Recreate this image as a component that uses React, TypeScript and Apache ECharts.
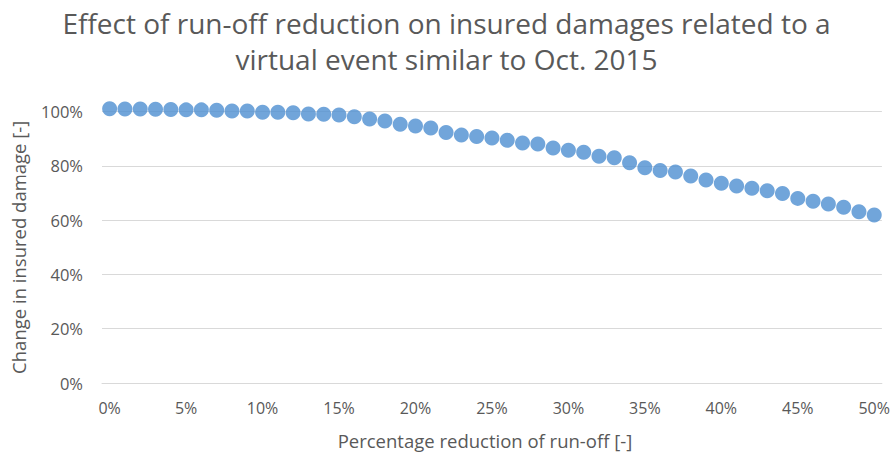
import React, { useEffect, useRef } from "react";
import * as echarts from "echarts";

const titleLines = [
  "Effect of run-off reduction on insured damages related to a",
  "virtual event similar to Oct. 2015",
];
const xAxisTitle = "Percentage reduction of run-off [-]";
const yAxisTitle = "Change in insured damage [-]";

// Percentage reduction of run-off (x, in %)
const runoffReduction = [
  0, 1, 2, 3, 4, 5, 6, 7, 8, 9, 10, 11, 12, 13, 14, 15, 16, 17, 18, 19, 20,
  21, 22, 23, 24, 25, 26, 27, 28, 29, 30, 31, 32, 33, 34, 35, 36, 37, 38, 39,
  40, 41, 42, 43, 44, 45, 46, 47, 48, 49, 50,
];

// Change in insured damage (y, in %)
const insuredDamage = [
  101.0, 100.9, 100.9, 100.8, 100.7, 100.6, 100.6, 100.5, 100.2, 100.2, 99.7,
  99.7, 99.5, 99.1, 99.0, 98.7, 98.1, 97.2, 96.5, 95.3, 94.7, 93.9, 92.3,
  91.3, 90.8, 90.2, 89.4, 88.4, 88.0, 86.6, 85.7, 85.0, 83.5, 83.0, 81.1,
  79.3, 78.3, 77.7, 76.2, 74.8, 73.6, 72.6, 71.7, 70.8, 69.8, 68.0, 66.9,
  65.9, 64.7, 63.1, 61.9,
];

const yMin = 0;
const yMax = 100;
const yInterval = 20;

export default function App() {
  const ref = useRef<HTMLDivElement>(null);

  useEffect(() => {
    if (!ref.current) return;
    const chart = echarts.init(ref.current, null, { renderer: "svg" });
    const font = "'Open Sans', Lato, sans-serif";
    const textColor = "#595959";
    chart.setOption({
      animation: false,
      backgroundColor: "#ffffff",
      textStyle: { fontFamily: font },
      title: {
        text: titleLines.join("\n"),
        left: "center",
        top: 0,
        textStyle: {
          fontFamily: font,
          fontSize: 28,
          fontWeight: "normal",
          color: textColor,
          lineHeight: 36,
        },
      },
      grid: { left: 102, right: 11, top: 111.5, bottom: 69 },
      xAxis: {
        type: "category",
        data: runoffReduction.map((v) => String(v)),
        boundaryGap: true,
        name: xAxisTitle,
        nameLocation: "middle",
        nameGap: 48,
        nameTextStyle: {
          fontFamily: font,
          fontSize: 18.5,
          color: textColor,
          padding: [0, 14, 0, 0],
        },
        axisLine: { show: true, lineStyle: { color: "#d9d9d9", width: 1 } },
        axisTick: { show: false },
        axisLabel: {
          interval: 4,
          margin: 17,
          fontFamily: font,
          fontSize: 16,
          color: textColor,
          formatter: (v: string) => v + "%",
        },
        splitLine: { show: false },
      },
      yAxis: {
        type: "value",
        min: yMin,
        max: yMax,
        interval: yInterval,
        name: yAxisTitle,
        nameLocation: "middle",
        nameGap: 74,
        nameTextStyle: { fontFamily: font, fontSize: 18.5, color: textColor },
        axisLine: { show: false },
        axisTick: { show: false },
        axisLabel: {
          margin: 19,
          fontFamily: font,
          fontSize: 16.5,
          color: textColor,
          formatter: "{value}%",
        },
        splitLine: { show: true, lineStyle: { color: "#d9d9d9", width: 1 } },
      },
      series: [
        {
          type: "scatter",
          data: insuredDamage,
          symbol: "circle",
          symbolSize: 15,
          clip: false,
          itemStyle: { color: "#4d8fd1" },
        },
      ],
    });
    return () => chart.dispose();
  }, []);

  return (
    <div
      ref={ref}
      style={{ position: "fixed", left: 0, top: 0, width: 893, height: 455 }}
    />
  );
}
